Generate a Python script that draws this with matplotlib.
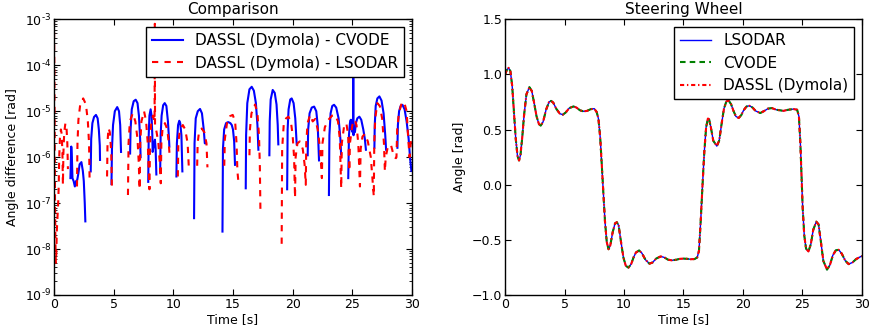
import numpy as np
import matplotlib
matplotlib.use("Agg")
import matplotlib.pyplot as plt
from matplotlib.ticker import FuncFormatter, LogLocator

nan = np.nan

# ---------------- Left panel data: |difference| of steering angle ----------------
cvode_time = [
    1.38, 1.45, 1.50, 1.55, 1.65, 1.75, 1.85, 1.95, 2.05, 2.15, 2.30, 2.42, 2.50, 2.58, 2.63, 2.66,
    3.08, 3.12, 3.22, 3.36, 3.52, 3.66, 3.76, 3.84, 3.86, 3.88,
    4.82, 4.86, 4.95, 5.10, 5.30, 5.45, 5.55, 5.62, 5.64,
    6.38, 6.42, 6.52, 6.68, 6.85, 7.00, 7.12, 7.22, 7.26, 7.28,
    7.90, 7.94, 8.00, 8.10, 8.18, 8.24, 8.27, 8.36, 8.46, 8.52, 8.58, 8.62,
    8.90, 8.94, 9.02, 9.15, 9.28, 9.42, 9.55, 9.64, 9.67, 9.70,
    10.26, 10.30, 10.40, 10.50, 10.58, 10.68, 10.76, 10.78,
    11.74, 11.78, 11.88, 12.05, 12.24, 12.40, 12.55, 12.64, 12.66, 12.68,
    14.12, 14.16, 14.26, 14.42, 14.60, 14.78, 14.90, 15.00, 15.10, 15.17, 15.19,
    16.07, 16.10, 16.20, 16.38, 16.57, 16.75, 16.92, 17.05, 17.13, 17.15,
    18.05, 18.08, 18.16, 18.33, 18.50, 18.65, 18.75, 18.80, 18.82,
    19.54, 19.58, 19.66, 19.80, 19.92, 20.08, 20.22, 20.30, 20.34, 20.36,
    21.26, 21.30, 21.42, 21.60, 21.80, 21.98, 22.10, 22.18, 22.21, 22.23,
    23.04, 23.08, 23.18, 23.32, 23.47, 23.65, 23.85, 24.00, 24.06, 24.08,
    24.66, 24.72, 24.80, 24.87, 24.92, 24.97, 25.02, 25.06, 25.08, 25.10, 25.15, 25.22,
    25.30, 25.42, 25.59, 25.75, 25.92, 26.05, 26.14, 26.16,
    26.85, 26.88, 26.96, 27.10, 27.27, 27.45, 27.62, 27.76, 27.83, 27.85,
    28.78, 28.82, 28.92, 29.05, 29.20, 29.38, 29.55, 29.72, 29.84, 29.95,
]
cvode_diff = [
    3.5e-7, 1.7e-6, 1.0e-6, 3.5e-7, 3.0e-7, 2.3e-7, 3.0e-7, 3.2e-7, 4.5e-7, 7.0e-7, 7.8e-7, 5.0e-7, 3.0e-7, 1.0e-7, 4.0e-8, nan,
    4.9e-7, 2.5e-6, 5.5e-6, 7.5e-6, 8.3e-6, 7.0e-6, 4.0e-6, 1.8e-6, 8.7e-7, nan,
    2.6e-7, 1.5e-6, 5.0e-6, 1.0e-5, 1.23e-5, 1.0e-5, 5.0e-6, 1.3e-6, nan,
    1.2e-6, 4.0e-6, 1.1e-5, 1.65e-5, 1.78e-5, 1.5e-5, 8.0e-6, 2.5e-6, 1.0e-6, nan,
    2.9e-7, 3.0e-6, 8.0e-6, 1.1e-5, 8.0e-6, 3.0e-6, 1.3e-6, 1.8e-6, 2.4e-6, 1.5e-6, 4.2e-7, nan,
    4.9e-7, 3.0e-6, 8.0e-6, 1.35e-5, 1.5e-5, 1.3e-5, 6.0e-6, 2.5e-6, 1.7e-6, nan,
    3.8e-7, 2.0e-6, 5.0e-6, 6.2e-6, 5.5e-6, 3.0e-6, 4.9e-7, nan,
    4.7e-8, 2.0e-6, 7.0e-6, 1.0e-5, 1.12e-5, 9.0e-6, 4.0e-6, 2.0e-6, 2.0e-6, nan,
    2.4e-8, 1.5e-6, 4.0e-6, 5.5e-6, 5.8e-6, 5.5e-6, 5.0e-6, 4.0e-6, 2.2e-6, 6.8e-7, nan,
    2.1e-7, 3.0e-6, 1.5e-5, 3.0e-5, 3.4e-5, 2.8e-5, 1.5e-5, 5.0e-6, 1.45e-6, nan,
    1.1e-6, 6.0e-6, 1.8e-5, 2.9e-5, 2.5e-5, 1.4e-5, 5.0e-6, 1.9e-6, nan,
    2.0e-7, 4.0e-6, 1.1e-5, 1.8e-5, 1.9e-5, 1.5e-5, 7.0e-6, 3.0e-6, 1.9e-6, nan,
    1.1e-6, 4.0e-6, 9.0e-6, 1.2e-5, 1.26e-5, 1.0e-5, 5.0e-6, 1.5e-6, 8.5e-7, nan,
    1.5e-7, 3.0e-6, 9.0e-6, 1.3e-5, 1.38e-5, 1.2e-5, 7.0e-6, 2.5e-6, 1.15e-6, nan,
    3.5e-7, 3.0e-6, 5.5e-6, 6.5e-6, 4.0e-6, 6.5e-6, 3.5e-6, 5.0e-6, 1.0e-4, 3.0e-6, 4.0e-6, 3.5e-6,
    5.5e-6, 7.0e-6, 7.6e-6, 6.5e-6, 4.0e-6, 2.5e-6, 1.45e-6, nan,
    1.6e-6, 5.0e-6, 1.3e-5, 1.9e-5, 2.1e-5, 1.7e-5, 9.0e-6, 3.0e-6, 1.45e-6, nan,
    1.6e-6, 5.0e-6, 1.0e-5, 1.3e-5, 1.38e-5, 1.1e-5, 6.0e-6, 2.5e-6, 9.5e-7, 5.0e-7,
]

lsodar_time = [
    0.00, 0.03, 0.06, 0.09, 0.12, 0.16, 0.20, 0.24, 0.28, 0.32, 0.36, 0.40, 0.44, 0.50, 0.58, 0.65,
    0.71, 0.75, 0.79, 0.86, 0.96, 1.05, 1.12, 1.17, 1.19,
    1.93, 1.97, 2.05, 2.20, 2.45, 2.68, 2.84, 2.94, 2.99, 3.01,
    4.45, 4.49, 4.57, 4.68, 4.80, 4.86, 4.88,
    6.20, 6.25, 6.36, 6.60, 6.82, 7.00, 7.10, 7.18, 7.23, 7.33, 7.55, 7.72, 7.86, 8.00,
    8.05, 8.16, 8.30, 8.43, 8.45, 8.47, 8.60, 8.75, 8.86, 8.95, 9.00, 9.10, 9.30, 9.50,
    9.62, 9.68, 9.70,
    10.38, 10.42, 10.55, 10.80, 11.00, 11.20, 11.30, 11.32,
    12.00, 12.04, 12.15, 12.38, 12.60, 12.78, 12.86, 12.88,
    14.27, 14.32, 14.50, 14.75, 14.98, 15.18, 15.30, 15.37, 15.45, 15.47,
    16.38, 16.42, 16.55, 16.85, 17.05, 17.18, 17.25, 17.30, 17.32,
    19.08, 19.12, 19.25, 19.45, 19.64, 19.85, 20.00, 20.12, 20.20, 20.25, 20.40, 20.60,
    20.85, 21.00, 21.10, 21.14, 21.25, 21.46, 21.68, 21.90, 22.10, 22.30, 22.45, 22.50,
    22.70, 23.00, 23.30, 23.55, 23.80, 23.95, 24.07, 24.12, 24.30, 24.50, 24.65, 24.75,
    24.80, 25.00, 25.20, 25.35, 25.50, 25.64, 25.70, 25.85, 26.05, 26.30, 26.55, 26.80,
    26.84, 26.92, 27.10, 27.30, 27.50, 27.65, 27.73, 27.80, 28.00, 28.25, 28.50, 28.66,
    28.70, 28.76, 28.90, 29.10, 29.34, 29.55, 29.70, 29.80, 29.90, 30.00,
]
lsodar_diff = [
    1.0e-3, 1.0e-4, 2.0e-6, 1.0e-7, 1.5e-8, 5.0e-9, 9.0e-9, 2.5e-8, 4.0e-8, 7.0e-8, 1.1e-7, 2.5e-7, 1.0e-6, 2.6e-6, 4.0e-6, 3.2e-6,
    1.2e-6, 2.5e-7, 1.2e-6, 3.5e-6, 5.5e-6, 4.5e-6, 2.0e-6, 5.5e-7, nan,
    2.3e-7, 2.0e-6, 6.5e-6, 1.4e-5, 1.9e-5, 1.4e-5, 6.0e-6, 2.0e-6, 2.7e-7, nan,
    3.8e-7, 2.2e-6, 4.3e-6, 3.5e-6, 1.3e-6, 2.0e-7, nan,
    1.5e-7, 2.0e-6, 6.0e-6, 9.0e-6, 6.0e-6, 2.5e-6, 8.0e-7, 2.0e-7, 2.0e-6, 6.0e-6, 1.0e-5, 6.0e-6, 2.0e-6, 2.0e-7,
    2.0e-6, 6.0e-6, 8.0e-6, 6.0e-6, 8.0e-4, 5.0e-6, 3.5e-6, 2.0e-6, 8.0e-7, 2.7e-7, 2.0e-6, 4.2e-6, 5.5e-6, 4.0e-6,
    2.0e-6, 1.2e-6, nan,
    3.8e-7, 2.0e-6, 4.0e-6, 5.0e-6, 4.0e-6, 2.0e-6, 6.0e-7, nan,
    6.5e-7, 2.0e-6, 3.5e-6, 4.2e-6, 3.5e-6, 2.0e-6, 6.0e-7, nan,
    6.5e-7, 2.5e-6, 5.5e-6, 7.8e-6, 8.3e-6, 6.0e-6, 2.0e-6, 5.0e-7, 3.0e-7, nan,
    1.1e-6, 4.0e-6, 9.0e-6, 1.4e-5, 9.0e-6, 3.0e-6, 7.0e-7, 7.0e-8, nan,
    1.3e-8, 1.5e-6, 5.0e-6, 7.0e-6, 7.6e-6, 6.0e-6, 3.0e-6, 1.0e-6, 1.3e-7, 1.0e-6, 2.0e-6, 2.2e-6,
    1.5e-6, 7.0e-7, 2.5e-7, 2.0e-6, 5.5e-6, 8.3e-6, 6.0e-6, 6.8e-6, 4.0e-6, 1.5e-6, 3.5e-7, 2.0e-6,
    4.5e-6, 6.5e-6, 8.0e-6, 8.3e-6, 6.0e-6, 2.5e-6, 2.1e-7, 2.0e-6, 4.5e-6, 5.5e-6, 3.0e-6, 5.0e-7,
    2.0e-6, 5.0e-6, 6.5e-6, 5.0e-6, 2.0e-6, 2.3e-7, 1.5e-6, 2.8e-6, 3.2e-6, 2.2e-6, 1.0e-6, 1.4e-7,
    2.0e-6, 7.0e-6, 1.5e-5, 1.3e-5, 7.0e-6, 2.0e-6, 4.9e-7, 1.0e-6, 1.8e-6, 1.8e-6, 1.0e-6, 9.5e-7,
    1.0e-6, 4.0e-6, 9.0e-6, 1.4e-5, 1.6e-5, 1.0e-5, 2.2e-6, 1.0e-6, 2.0e-6, 3.0e-6,
]

# ---------------- Right panel data: steering wheel angle ----------------
steer_time = [
    0.00, 0.15, 0.30, 0.45, 0.60, 0.75, 0.90, 1.05, 1.18, 1.30, 1.45, 1.60, 1.80, 2.05, 2.25, 2.45,
    2.65, 2.85, 3.00, 3.20, 3.45, 3.70, 3.87, 4.05, 4.30, 4.60, 4.85, 5.10, 5.40, 5.75, 6.00, 6.30,
    6.60, 6.90, 7.20, 7.50, 7.70, 7.85, 8.00, 8.15, 8.28, 8.40, 8.55, 8.70, 8.85, 9.05, 9.25, 9.40,
    9.55, 9.75, 9.95, 10.15, 10.37, 10.60, 10.80, 11.00, 11.27, 11.50, 11.80, 12.14, 12.40, 12.70,
    13.09, 13.40, 13.70, 14.02, 14.40, 14.70, 15.00, 15.30, 15.60, 15.93, 16.15, 16.30, 16.45, 16.60,
    16.75, 16.90, 17.05, 17.15, 17.30, 17.50, 17.80, 18.00, 18.20, 18.40, 18.60, 18.79, 19.00, 19.20,
    19.40, 19.63, 19.85, 20.05, 20.30, 20.55, 20.80, 21.05, 21.45, 21.80, 22.10, 22.43, 22.80, 23.40,
    23.80, 24.25, 24.55, 24.70, 24.82, 24.92, 25.02, 25.15, 25.30, 25.50, 25.70, 25.90, 26.16, 26.35,
    26.55, 26.75, 27.06, 27.30, 27.55, 27.80, 28.04, 28.30, 28.60, 28.88, 29.20, 29.50, 29.92, 30.00,
]
steer_angle = [
    1.00, 1.04, 1.06, 1.03, 0.90, 0.66, 0.42, 0.26, 0.22, 0.27, 0.43, 0.63, 0.82, 0.885, 0.85, 0.74,
    0.62, 0.55, 0.536, 0.57, 0.68, 0.75, 0.76, 0.745, 0.69, 0.645, 0.635, 0.655, 0.695, 0.71, 0.70, 0.675,
    0.665, 0.67, 0.685, 0.69, 0.66, 0.60, 0.43, 0.15, -0.10, -0.33, -0.52, -0.585, -0.55, -0.43, -0.35, -0.34,
    -0.37, -0.52, -0.66, -0.735, -0.752, -0.72, -0.66, -0.615, -0.596, -0.62, -0.68, -0.716, -0.705, -0.67,
    -0.65, -0.66, -0.68, -0.686, -0.68, -0.672, -0.67, -0.672, -0.676, -0.674, -0.66, -0.60, -0.32, 0.00,
    0.30, 0.52, 0.60, 0.595, 0.52, 0.40, 0.35, 0.40, 0.55, 0.69, 0.755, 0.764, 0.73, 0.67,
    0.62, 0.605, 0.63, 0.675, 0.71, 0.716, 0.70, 0.67, 0.65, 0.67, 0.69, 0.695, 0.68, 0.67,
    0.68, 0.686, 0.68, 0.62, 0.38, 0.08, -0.22, -0.46, -0.58, -0.605, -0.54, -0.41, -0.335, -0.36,
    -0.52, -0.69, -0.77, -0.73, -0.64, -0.595, -0.59, -0.625, -0.69, -0.72, -0.705, -0.675, -0.65, -0.648,
]

plt.rcParams.update({
    "font.family": ["DejaVu Sans"],
    "font.size": 9,
    "xtick.direction": "in",
    "ytick.direction": "in",
    "xtick.top": True,
    "ytick.right": True,
    "xtick.major.size": 4,
    "ytick.major.size": 4,
    "xtick.minor.size": 2,
    "ytick.minor.size": 2,
    "xtick.major.pad": 2.5,
    "ytick.major.pad": 2,
    "axes.linewidth": 1.0,
    "lines.scale_dashes": False,
})


def log_label(val, pos):
    exp = int(round(np.log10(val)))
    sign = "\u2010" if exp < 0 else ""
    return r"$10^{%s%d}$" % (sign, abs(exp))


fig = plt.figure(figsize=(8.76, 3.27), dpi=100)
ax1 = fig.add_axes([0.0616, 0.0979, 0.4087, 0.843])
ax2 = fig.add_axes([0.5765, 0.0979, 0.4075, 0.843])

# Left panel
ax1.plot(cvode_time, cvode_diff, color="b", lw=1.5, label="DASSL (Dymola) - CVODE")
ax1.plot(lsodar_time, lsodar_diff, color="r", lw=1.5, dashes=(4.5, 4.5),
         label="DASSL (Dymola) - LSODAR")
ax1.set_yscale("log")
ax1.set_xlim(0, 30)
ax1.set_ylim(1e-9, 1e-3)
ax1.yaxis.set_major_locator(LogLocator(base=10, numticks=10))
ax1.yaxis.set_major_formatter(FuncFormatter(log_label))
ax1.set_xticks([0, 5, 10, 15, 20, 25, 30])
ax1.set_title("Comparison", fontsize=11, pad=4)
ax1.set_xlabel("Time [s]", fontsize=9, labelpad=1)
ax1.set_ylabel("Angle difference [rad]", fontsize=9, labelpad=4)
leg1 = ax1.legend(loc="upper right", fontsize=11, fancybox=False, framealpha=1,
                  edgecolor="black", handlelength=2.0, borderaxespad=0.5)
leg1.get_frame().set_linewidth(1.0)

# Right panel
ax2.plot(steer_time, steer_angle, color="b", lw=1.0, label="LSODAR")
ax2.plot(steer_time, steer_angle, color="g", lw=1.5, dashes=(4, 3), label="CVODE")
ax2.plot(steer_time, steer_angle, color="r", lw=1.5, dashes=(3, 2, 1, 2), label="DASSL (Dymola)")
ax2.set_xlim(0, 30)
ax2.set_ylim(-1.0, 1.5)
ax2.set_xticks([0, 5, 10, 15, 20, 25, 30])
ax2.set_yticks([-1.0, -0.5, 0.0, 0.5, 1.0, 1.5])
ax2.set_title("Steering Wheel", fontsize=11, pad=4)
ax2.set_xlabel("Time [s]", fontsize=9, labelpad=1)
ax2.set_ylabel("Angle [rad]", fontsize=9, labelpad=4)
leg2 = ax2.legend(loc="upper right", fontsize=11, fancybox=False, framealpha=1,
                  edgecolor="black", handlelength=2.0, borderaxespad=0.5)
leg2.get_frame().set_linewidth(1.0)

for ax in (ax1, ax2):
    ax.tick_params(labelsize=9)

fig.savefig("out.png", dpi=100, facecolor="white")
